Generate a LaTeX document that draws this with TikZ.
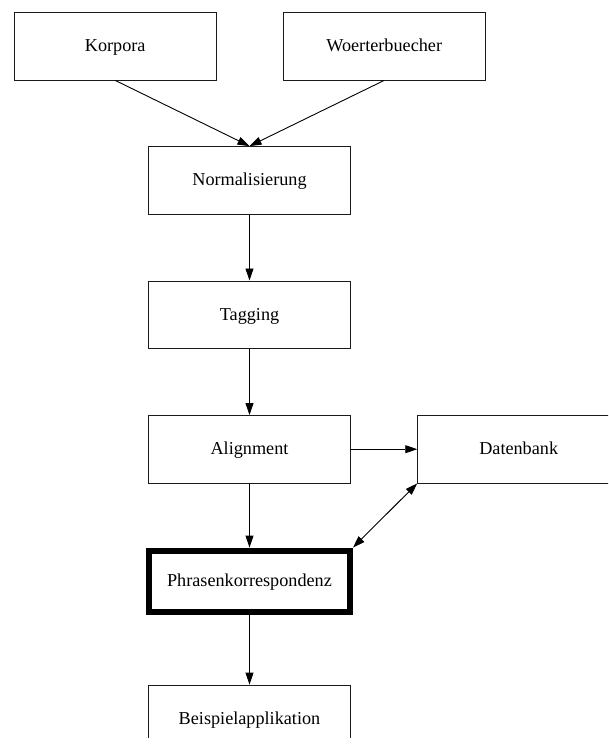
\documentclass[tikz,border=0pt]{standalone}
\usepackage{fontspec}
\setmainfont{Liberation Serif}
\usepackage{xcolor}
\usetikzlibrary{arrows.meta}
\definecolor{ink}{HTML}{000000}
\definecolor{frame}{HTML}{1A1A1A}

\tikzset{
  stagebox/.style={
    draw=frame,
    line width=0.9pt,
    minimum width=202pt,
    minimum height=67.5pt,
    inner sep=0pt,
    text=ink,
    text height=13pt,
    text depth=2pt,
    font=\fontsize{18.2}{22}\selectfont
  },
  keybox/.style={
    stagebox,
    draw=ink,
    line width=6pt,
    minimum width=201pt,
    minimum height=61.5pt
  },
  flow/.style={
    draw=ink,
    line width=0.9pt,
    -{Triangle[length=12pt,width=8pt]}
  },
  twoway/.style={
    flow,
    {Triangle[length=12pt,width=8pt]}-{Triangle[length=12pt,width=8pt]}
  }
}

\begin{document}
\begin{tikzpicture}[x=1pt,y=-1pt]
\useasboundingbox (0,0) rectangle (608,747);
\clip (0,0) rectangle (608,737);
\node[stagebox] (korpora) at (115.2,46.2) {Korpora};
\node[stagebox] (woerter) at (384.2,46.2) {Woerterbuecher};
\node[stagebox] (normal) at (249.5,180.3) {Normalisierung};
\node[stagebox] (tagging) at (249.5,314.7) {Tagging};
\node[stagebox] (align) at (249.5,449.2) {Alignment};
\node[stagebox] (datenbank) at (518.7,449.2) {Datenbank};
\node[keybox] (phrasen) at (249.5,581.3) {Phrasenkorrespondenz};
\node[stagebox] (beispiel) at (249.5,718.8) {Beispielapplikation};

\draw[flow] (korpora.south) -- (normal.north);
\draw[flow] (woerter.south) -- (normal.north);
\draw[flow] (normal) -- (tagging);
\draw[flow] (tagging) -- (align);
\draw[flow] (align) -- (datenbank);
\draw[flow] (align) -- (phrasen);
\draw[twoway] (datenbank.south west) -- (phrasen.north east);
\draw[flow] (phrasen) -- (beispiel);
\end{tikzpicture}
\end{document}
